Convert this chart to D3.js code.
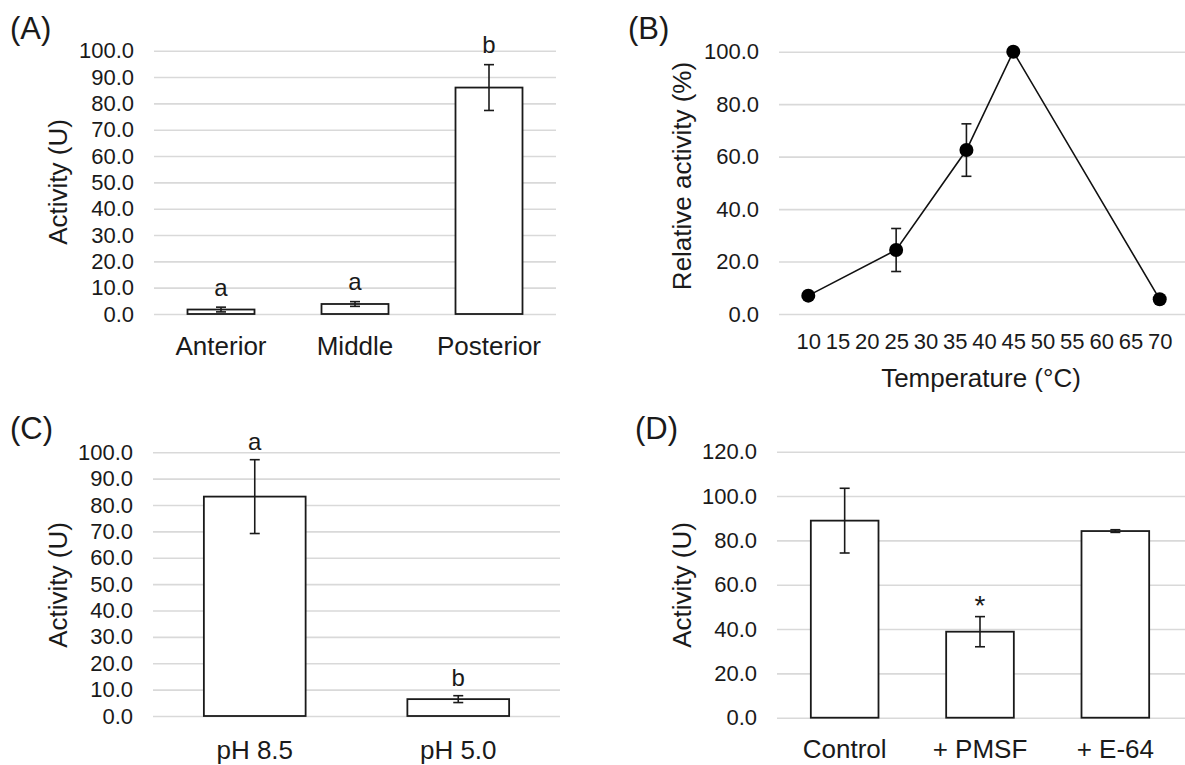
<!DOCTYPE html>
<html>
<head>
<meta charset="utf-8">
<script src="https://cdn.jsdelivr.net/npm/d3@7"></script>
<style>
  html, body { margin: 0; padding: 0; background: #fff; }
  svg { display: block; font-family: "Liberation Sans", Arial, sans-serif; }
</style>
</head>
<body>
<svg id="chart" width="1185" height="765"></svg>
<script>
// ---- Panel A: activity by region ----
const regionCats = ["Anterior", "Middle", "Posterior"];
const regionVals = [1.7, 3.8, 86.0];
const regionErr = [0.9, 0.9, 8.7];
const regionLetters = ["a", "a", "b"];
const regionTicks = [0, 10, 20, 30, 40, 50, 60, 70, 80, 90, 100];

// ---- Panel B: temperature profile ----
const tempX = [10, 25, 37, 45, 70];
const tempVals = [7.0, 24.4, 62.5, 100.0, 5.6];
const tempErr = [0, 8.2, 10.0, 0, 0];
const tempTicksX = [10, 15, 20, 25, 30, 35, 40, 45, 50, 55, 60, 65, 70];
const tempTicksY = [0, 20, 40, 60, 80, 100];

// ---- Panel C: pH ----
const phCats = ["pH 8.5", "pH 5.0"];
const phVals = [83.2, 6.4];
const phErr = [14.0, 1.3];
const phLetters = ["a", "b"];
const phTicks = [0, 10, 20, 30, 40, 50, 60, 70, 80, 90, 100];

// ---- Panel D: inhibitors ----
const inhCats = ["Control", "+ PMSF", "+ E-64"];
const inhVals = [88.9, 38.8, 84.2];
const inhErr = [14.6, 6.8, 0.6];
const inhMarks = ["", "*", ""];
const inhTicks = [0, 20, 40, 60, 80, 100, 120];

const svg = d3.select("#chart");
const TXT = "#1a1a1a";
const GRID = "#d9d9d9";
const fmt = d3.format(".1f");

function panelLabel(text, x, y) {
  svg.append("text").attr("x", x).attr("y", y)
    .attr("font-size", 31).attr("fill", TXT).text(text);
}

function yTitle(text, x, y) {
  svg.append("text")
    .attr("transform", `translate(${x},${y}) rotate(-90)`)
    .attr("text-anchor", "middle")
    .attr("font-size", 26).attr("fill", TXT).text(text);
}

function yAxisGrid(g, y, ticks, left, gridRight) {
  const ax = d3.axisLeft(y).tickValues(ticks).tickFormat(fmt)
    .tickSizeInner(-(gridRight - left)).tickSizeOuter(0).tickPadding(20);
  const a = g.append("g").attr("transform", `translate(${left},0)`).call(ax);
  a.select(".domain").remove();
  a.selectAll(".tick line").attr("stroke", GRID).attr("stroke-width", 1.6);
  a.selectAll(".tick text").attr("font-size", 22).attr("fill", TXT)
    .attr("font-family", "Liberation Sans, Arial, sans-serif");
}

function barPanel(opt) {
  const g = svg.append("g");
  const y = d3.scaleLinear().domain([0, opt.ymax]).range([opt.y0, opt.ytop]);
  const x = d3.scaleBand().domain(opt.cats).range([opt.left, opt.right]).paddingInner(0.5).paddingOuter(0.25);
  yAxisGrid(g, y, opt.ticks, opt.left, opt.gridRight);

  const xa = g.append("g").attr("transform", `translate(0,${opt.y0})`)
    .call(d3.axisBottom(x).tickSize(0).tickPadding(opt.labelPad));
  xa.select(".domain").remove();
  xa.selectAll(".tick text").attr("font-size", 26).attr("fill", TXT)
    .attr("font-family", "Liberation Sans, Arial, sans-serif");

  const data = opt.cats.map((c, i) => ({ c, v: opt.vals[i], e: opt.err[i], l: opt.labels[i] }));
  g.selectAll("rect.bar").data(data).join("rect").attr("class", "bar")
    .attr("x", d => x(d.c)).attr("width", x.bandwidth())
    .attr("y", d => y(d.v)).attr("height", d => y(0) - y(d.v))
    .attr("fill", "#fff").attr("stroke", TXT).attr("stroke-width", 1.8);

  const eb = g.selectAll("g.err").data(data).join("g").attr("class", "err")
    .attr("stroke", TXT).attr("stroke-width", 1.6);
  const cx = d => x(d.c) + x.bandwidth() / 2;
  eb.append("line").attr("x1", cx).attr("x2", cx)
    .attr("y1", d => y(d.v + d.e)).attr("y2", d => y(d.v - d.e));
  eb.append("line").attr("x1", d => cx(d) - 5).attr("x2", d => cx(d) + 5)
    .attr("y1", d => y(d.v + d.e)).attr("y2", d => y(d.v + d.e));
  eb.append("line").attr("x1", d => cx(d) - 5).attr("x2", d => cx(d) + 5)
    .attr("y1", d => y(d.v - d.e)).attr("y2", d => y(d.v - d.e));

  g.selectAll("text.sig").data(data).join("text").attr("class", "sig")
    .attr("x", cx).attr("y", d => y(d.v + d.e) - opt.sigOff)
    .attr("text-anchor", "middle").attr("font-size", opt.sigSize || 24).attr("fill", TXT)
    .text(d => d.l);
}

// Panel A
panelLabel("(A)", 10, 39);
yTitle("Activity (U)", 67, 182);
barPanel({
  cats: regionCats, vals: regionVals, err: regionErr, labels: regionLetters,
  ticks: regionTicks, ymax: 100, y0: 314, ytop: 50.7,
  left: 154, right: 556, gridRight: 556, labelPad: 22.5, sigOff: 11.5
});

// Panel C
panelLabel("(C)", 10, 439);
yTitle("Activity (U)", 67, 585);
barPanel({
  cats: phCats, vals: phVals, err: phErr, labels: phLetters,
  ticks: phTicks, ymax: 100, y0: 716, ytop: 452.3,
  left: 153, right: 560, gridRight: 560, labelPad: 25, sigOff: 9.5
});

// Panel D
panelLabel("(D)", 635, 439);
yTitle("Activity (U)", 691, 585);
barPanel({
  cats: inhCats, vals: inhVals, err: inhErr, labels: inhMarks,
  ticks: inhTicks, ymax: 120, y0: 717.7, ytop: 451.7,
  left: 777, right: 1183, gridRight: 1185, labelPad: 22, sigOff: 2, sigSize: 28
});

// Panel B
(function () {
  const g = svg.append("g");
  const left = 779;
  const y = d3.scaleLinear().domain([0, 100]).range([314, 51.7]);
  const x = d3.scaleLinear().domain([5, 75]).range([left, 1189]);
  panelLabel("(B)", 628, 39);
  yTitle("Relative activity (%)", 691, 176);
  yAxisGrid(g, y, tempTicksY, left, 1185);

  const xa = g.append("g").attr("transform", "translate(0,314)")
    .call(d3.axisBottom(x).tickValues(tempTicksX).tickFormat(d3.format("d")).tickSize(0).tickPadding(19.5));
  xa.select(".domain").remove();
  xa.selectAll(".tick text").attr("font-size", 22).attr("fill", TXT)
    .attr("font-family", "Liberation Sans, Arial, sans-serif");

  svg.append("text").attr("x", 981).attr("y", 387).attr("text-anchor", "middle")
    .attr("font-size", 26).attr("fill", TXT).text("Temperature (°C)");

  const pts = tempX.map((t, i) => ({ t, v: tempVals[i], e: tempErr[i] }));
  const eb = g.selectAll("g.err").data(pts.filter(d => d.e > 0)).join("g")
    .attr("stroke", TXT).attr("stroke-width", 1.6);
  eb.append("line").attr("x1", d => x(d.t)).attr("x2", d => x(d.t))
    .attr("y1", d => y(d.v + d.e)).attr("y2", d => y(d.v - d.e));
  eb.append("line").attr("x1", d => x(d.t) - 5).attr("x2", d => x(d.t) + 5)
    .attr("y1", d => y(d.v + d.e)).attr("y2", d => y(d.v + d.e));
  eb.append("line").attr("x1", d => x(d.t) - 5).attr("x2", d => x(d.t) + 5)
    .attr("y1", d => y(d.v - d.e)).attr("y2", d => y(d.v - d.e));

  g.append("path").datum(pts)
    .attr("d", d3.line().x(d => x(d.t)).y(d => y(d.v)))
    .attr("fill", "none").attr("stroke", "#111").attr("stroke-width", 1.6);

  g.selectAll("circle").data(pts).join("circle")
    .attr("cx", d => x(d.t)).attr("cy", d => y(d.v)).attr("r", 7)
    .attr("fill", "#000");
})();
</script>
</body>
</html>
